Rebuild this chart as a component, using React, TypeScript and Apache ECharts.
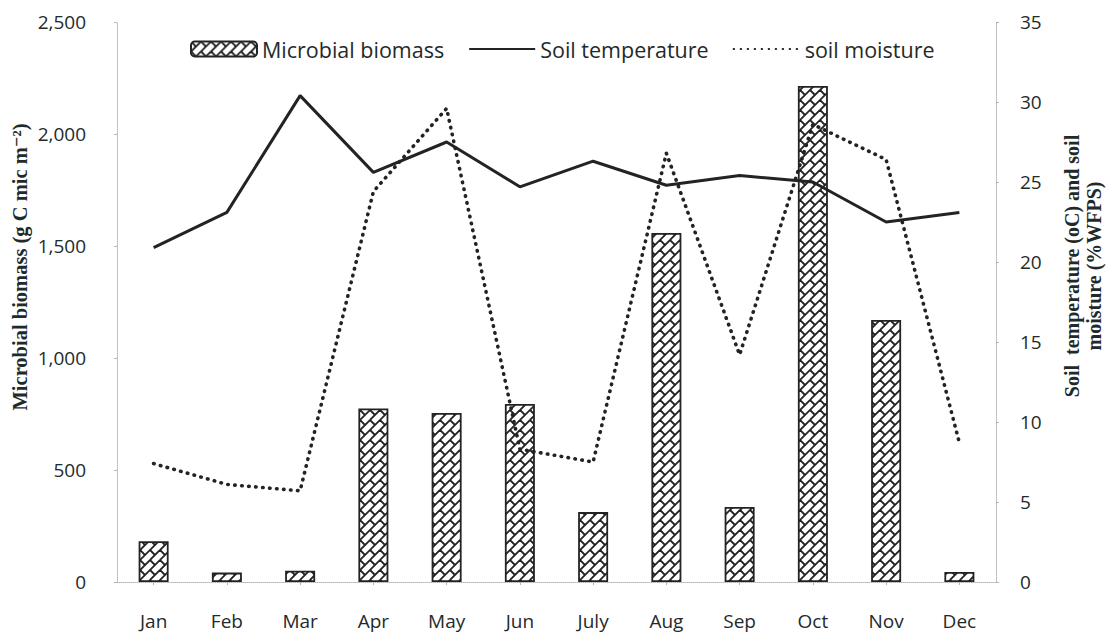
import React, { useEffect, useRef } from "react";
import * as echarts from "echarts";

const months = ["Jan", "Feb", "Mar", "Apr", "May", "Jun", "July", "Aug", "Sep", "Oct", "Nov", "Dec"];
const biomass = [182, 42, 50, 775, 755, 795, 312, 1558, 335, 2214, 1170, 45];
const soilTemperature = [20.9, 23.1, 30.4, 25.6, 27.5, 24.7, 26.3, 24.8, 25.4, 25.0, 22.5, 23.1];
const soilMoisture = [7.4, 6.1, 5.7, 24.4, 29.6, 8.3, 7.5, 26.8, 14.2, 28.6, 26.4, 8.7];
const leftTicks = { min: 0, max: 2500, interval: 500 };
const rightTicks = { min: 0, max: 35, interval: 5 };

const INK = "#232323";
const TEXT = "#1f2a2a";
const FONT = "'Open Sans', 'Liberation Sans', sans-serif";
const SERIF = "'Liberation Serif', 'DejaVu Serif', serif";

function makePattern() {
  const T = 20;
  const c = document.createElement("canvas");
  c.width = T;
  c.height = T;
  const ctx = c.getContext("2d")!;
  ctx.fillStyle = "#ffffff";
  ctx.fillRect(0, 0, T, T);
  ctx.strokeStyle = INK;
  ctx.lineWidth = 1.8;
  ctx.lineCap = "butt";
  const segs: number[][] = [
    [0, T / 2, T / 2, 0],
    [0, T, T, 0],
    [T / 2, T, T, T / 2],
    [0, 0, T / 4, T / 4],
    [T / 2, 0, (3 * T) / 4, T / 4],
    [0, T / 2, T / 4, (3 * T) / 4],
    [T / 2, T / 2, (3 * T) / 4, (3 * T) / 4],
  ];
  for (const dx of [-T, 0, T]) {
    for (const dy of [-T, 0, T]) {
      for (const s of segs) {
        ctx.beginPath();
        ctx.moveTo(s[0] + dx, s[1] + dy);
        ctx.lineTo(s[2] + dx, s[3] + dy);
        ctx.stroke();
      }
    }
  }
  return { image: c, repeat: "repeat", imageWidth: T, imageHeight: T };
}

export default function App() {
  const ref = useRef<HTMLDivElement>(null);
  useEffect(() => {
    if (!ref.current) return;
    const chart = echarts.init(ref.current, undefined, { renderer: "svg" });
    const pattern = makePattern();
    const axisLine = { show: true, lineStyle: { color: "#b5b5b5", type: "dotted", width: 1 } };
    chart.setOption({
      animation: false,
      backgroundColor: "#ffffff",
      grid: { left: 117, right: 115, top: 22, bottom: 58 },
      legend: {
        left: 185,
        top: 33,
        itemWidth: 66,
        itemHeight: 15,
        itemGap: 24,
        textStyle: { fontFamily: FONT, fontSize: 21.5, color: TEXT },
        data: [
          { name: "Microbial biomass" },
          { name: "Soil temperature", itemStyle: { opacity: 0 } },
          { name: "soil moisture", itemStyle: { opacity: 0 } },
        ],
      },
      xAxis: {
        type: "category",
        data: months,
        axisLine: axisLine,
        axisTick: { show: true, alignWithLabel: true, length: 3, lineStyle: { color: "#b5b5b5" } },
        axisLabel: { fontFamily: FONT, fontSize: 19, color: TEXT, margin: 29 },
      },
      yAxis: [
        {
          type: "value",
          min: leftTicks.min,
          max: leftTicks.max,
          interval: leftTicks.interval,
          axisLine: axisLine,
          axisTick: { show: true, length: 3, lineStyle: { color: "#b5b5b5" } },
          splitLine: { show: false },
          axisLabel: {
            fontFamily: FONT,
            fontSize: 19,
            color: TEXT,
            margin: 31,
            formatter: (v: number) => v.toLocaleString("en-US"),
          },
        },
        {
          type: "value",
          min: rightTicks.min,
          max: rightTicks.max,
          interval: rightTicks.interval,
          position: "right",
          axisLine: axisLine,
          axisTick: { show: true, length: 3, lineStyle: { color: "#b5b5b5" } },
          splitLine: { show: false },
          axisLabel: { fontFamily: FONT, fontSize: 19, color: TEXT, margin: 24 },
        },
      ],
      series: [
        {
          name: "Microbial biomass",
          type: "bar",
          data: biomass,
          barWidth: 30,
          yAxisIndex: 0,
          itemStyle: { color: pattern, borderColor: INK, borderWidth: 1.8 },
        },
        {
          name: "Soil temperature",
          type: "line",
          data: soilTemperature,
          yAxisIndex: 1,
          symbol: "none",
          lineStyle: { color: INK, width: 3 },
          itemStyle: { color: INK },
        },
        {
          name: "soil moisture",
          type: "line",
          data: soilMoisture,
          yAxisIndex: 1,
          symbol: "none",
          lineStyle: { color: INK, width: 3.6, type: [0.5, 6.5], cap: "round" },
          itemStyle: { color: INK },
        },
      ],
      graphic: [
        {
          type: "text",
          x: 20,
          y: 267,
          rotation: Math.PI / 2,
          style: {
            text: "Microbial biomass (g C mic m⁻²)",
            fontFamily: SERIF,
            fontWeight: "bold",
            fontSize: 20.5,
            fill: TEXT,
            align: "center",
            verticalAlign: "middle",
          },
        },
        {
          type: "text",
          x: 1083,
          y: 266,
          rotation: Math.PI / 2,
          style: {
            text: "Soil  temperature (oC) and soil\nmoisture (%WFPS)",
            fontFamily: SERIF,
            fontWeight: "bold",
            fontSize: 20,
            lineHeight: 22,
            fill: TEXT,
            align: "center",
            verticalAlign: "middle",
          },
        },
      ],
    });
    return () => chart.dispose();
  }, []);
  return <div ref={ref} style={{ width: 1111, height: 640, position: "absolute", left: 0, top: 0 }} />;
}
